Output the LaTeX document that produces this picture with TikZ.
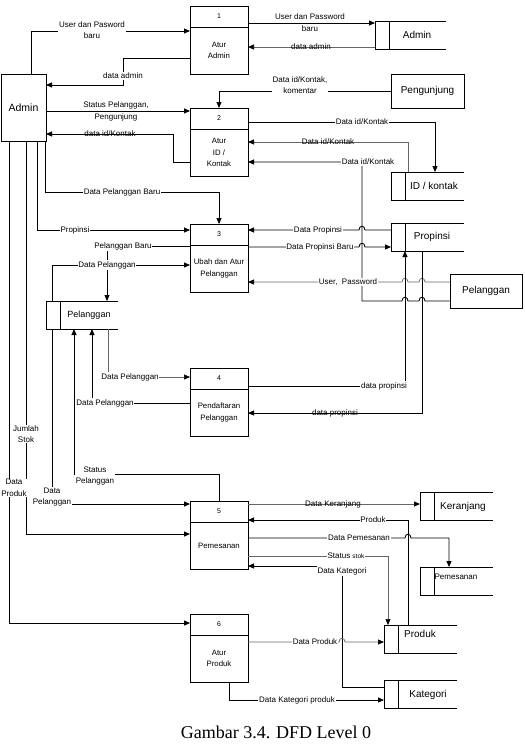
\documentclass[tikz,border=0pt]{standalone}
\usepackage{fontspec}
\setmainfont{Liberation Sans}
\newfontfamily\capfont{Liberation Serif}
\usetikzlibrary{arrows.meta}

\newcommand{\DFDproc}[4]{%
  \node[proc] (#1) at (219,#2+34) {};
  \draw[boxline] ([yshift=-21.5pt]#1.north west) -- ([yshift=-21.5pt]#1.north east);
  \node[pnum] (#1n) at ([yshift=-10.5pt]#1.north) {#3};
  \node[ptext] (#1t) at ([yshift=-44.5pt]#1.north) {#4};
}
\newcommand{\DFDstore}[8]{%
  \node[storebox, minimum width=#4pt] (#1) at (#2+#4/2,#3+14) {};
  \draw[boxline] (#1.north east) -- (#1.north west) -- (#1.south west) -- (#1.south east);
  \draw[boxline] ([xshift=14pt]#1.north west) -- ([xshift=14pt]#1.south west);
  \node[#8] (#1t) at (#6,#7) {#5};
}

\begin{document}
\begin{tikzpicture}[x=1pt,y=-1pt,
  boxline/.style={line width=0.9pt},
  proc/.style={draw, line width=0.9pt, minimum width=58pt, minimum height=68pt, inner sep=0pt, outer sep=0pt},
  storebox/.style={minimum height=28pt, inner sep=0pt, outer sep=0pt},
  ent/.style={draw, line width=0.9pt, inner sep=0pt, outer sep=0pt, font=\fontsize{10}{12}\selectfont},
  pnum/.style={font=\fontsize{7}{8}\selectfont},
  ptext/.style={font=\fontsize{7.8}{11.5}\selectfont, align=center},
  stxt/.style={font=\fontsize{10}{12}\selectfont},
  stxtnine/.style={font=\fontsize{9}{11}\selectfont},
  stxteight/.style={font=\fontsize{8}{10}\selectfont},
  lbl/.style={font=\fontsize{8}{11.5}\selectfont, inner sep=0.8pt, fill=white, align=center},
  lbls/.style={font=\fontsize{8}{11.5}\selectfont, inner sep=0.8pt, align=center},
  flow/.style={line width=0.9pt, -{Triangle[length=6pt,width=5pt]}},
  gflow/.style={line width=0.7pt, draw=black!60, -{Triangle[length=6pt,width=5pt,color=black]}},
]
\fill[white] (0,0) rectangle (525,753);
\useasboundingbox (0,0) rectangle (525,753);

% ---------- external entities ----------
\node[ent, minimum width=45pt, minimum height=67pt, font=\fontsize{10.5}{12}\selectfont] (admin) at (23.5,107.5) {Admin};
\node[ent, minimum width=73pt, minimum height=34pt] (ePeng) at (427.5,91) {Pengunjung};
\node[ent, minimum width=72pt, minimum height=34pt] (ePel) at (486,291) {Pelanggan};

% ---------- processes ----------
\DFDproc{p1}{6}{1}{Atur\\Admin}
\DFDproc{p2}{108}{2}{Atur\\ID /\\Kontak}
\DFDproc{p3}{224}{3}{Ubah dan Atur\\Pelanggan}
\DFDproc{p4}{368}{4}{Pendaftaran\\Pelanggan}
\DFDproc{p5}{501}{5}{Pemesanan}
\DFDproc{p6}{614}{6}{Atur\\Produk}

% ---------- data stores ----------
\DFDstore{sAdmin}{375}{21}{71}{Admin}{417}{35}{stxt}
\DFDstore{sID}{391}{172}{73}{ID / kontak}{434}{186}{stxt}
\DFDstore{sProp}{391}{223}{73}{Propinsi}{432}{237}{stxt}
\DFDstore{sPel}{46}{301}{72}{Pelanggan}{89}{315}{stxtnine}
\DFDstore{sKer}{420}{492}{73}{Keranjang}{463}{507}{stxt}
\DFDstore{sPem}{420}{567}{73}{Pemesanan}{456}{577}{stxteight}
\DFDstore{sProd}{384}{625}{73}{Produk}{420}{634}{stxt}
\DFDstore{sKat}{384}{680}{73}{Kategori}{428}{695}{stxt}

% ---------- flows ----------
\draw[flow] (admin.north -| 31,0) -- (31,31) -- (p1.west |- 0,31);
\draw[flow] (p1.west |- 0,58) -- (123,58) -- (123,85) -- (admin.east |- 0,85);
\draw[flow] (p1.east |- 0,23) -- (sAdmin.west |- 0,23);
\draw[gflow] (sAdmin.west |- 0,47) -- (p1.east |- 0,47);
\draw[flow] (admin.east |- 0,111) -- (p2.west |- 0,111);
\draw[flow] (ePeng.west |- 0,91) -- (219,91) -- (p2.north);
\draw[flow] (p2.west |- 0,162) -- (173,162) -- (173,134) -- (admin.east |- 0,134);
\draw[flow] (p2.east |- 0,122) -- (435,122) -- (sID.north -| 435,0);
\draw[gflow] (sID.north -| 408,0) -- (408,142) -- (p2.east |- 0,142);
\draw[flow] (ePel.west |- 0,301) -- (425,301) .. controls (425,296) and (419,296) .. (419,301)
  -- (408,301) .. controls (408,296) and (402,296) .. (402,301)
  -- (362,301) -- (362,162) -- (p2.east |- 0,162);
\draw[flow] (admin.south -| 45,0) -- (45,192) -- (219,192) -- (p3.north);
\draw[flow] (admin.south -| 37,0) -- (37,230) -- (p3.west |- 0,230);
\draw[flow] (p3.west |- 0,246) -- (107,246) -- (sPel.north -| 107,0);
\draw[flow] (sPel.north -| 52,0) -- (52,265) -- (p3.west |- 0,265);
\draw[flow] (sProp.west |- 0,230) -- (365,230) .. controls (365,225) and (359,225) .. (359,230) -- (p3.east |- 0,230);
\draw[flow] (p3.east |- 0,247) -- (359,247) .. controls (359,242) and (365,242) .. (365,247) -- (sProp.west |- 0,247);
\draw[gflow] (ePel.west |- 0,282) -- (425,282) .. controls (425,277) and (419,277) .. (419,282)
  -- (408,282) .. controls (408,277) and (402,277) .. (402,282) -- (p3.east |- 0,282);
\draw[flow] (p4.east |- 0,386) -- (405,386) -- (sProp.south -| 405,0);
\draw[flow] (sProp.south -| 422,0) -- (422,413) -- (p4.east |- 0,413);
\draw[gflow] (sPel.south -| 108,0) -- (108,377) -- (p4.west |- 0,377);
\draw[flow] (p4.west |- 0,403) -- (92,403) -- (sPel.south -| 92,0);
\draw[flow] (p5.north) -- (219,474) -- (74,474) -- (sPel.south -| 74,0);
\draw[flow] (sPel.south -| 52,0) -- (52,504) -- (p5.west |- 0,504);
\draw[flow] (admin.south -| 26,0) -- (26,534) -- (p5.west |- 0,534);
\draw[flow] (admin.south -| 9,0) -- (9,623) -- (p6.west |- 0,623);
\draw[gflow] (p5.east |- 0,504) -- (sKer.west |- 0,504);
\draw[flow] (sProd.north -| 408,0) -- (408,520) -- (p5.east |- 0,520);
\draw[flow] (p5.east |- 0,538) -- (405,538) .. controls (405,533) and (411,533) .. (411,538) -- (449,538) -- (sPem.north -| 449,0);
\draw[gflow] (p5.east |- 0,556) -- (388,556) -- (sProd.north -| 388,0);
\draw[flow] (sKat.west |- 0,687) -- (342,687) -- (342,566) -- (p5.east |- 0,566);
\draw[gflow] (p6.east |- 0,642) -- (339,642) .. controls (339,637) and (345,637) .. (345,642) -- (sProd.west |- 0,642);
\draw[flow] (p6.south -| 229,0) -- (229,700) -- (sKat.west |- 0,700);

% ---------- labels ----------
\node[lbl] (l1) at (92,30) {User dan Pasword\\baru};
\node[lbl] (l2) at (123,76) {data admin};
\node[lbls] (l3a) at (310,17) {User dan Password};
\node[lbls] (l3b) at (310,29) {baru};
\node[lbls] (l4) at (311,47) {data admin};
\node[lbls] (l5a) at (116,105) {Status Pelanggan,};
\node[lbls] (l5b) at (116,117) {Pengunjung};
\node[lbl] (l6) at (300,85) {Data id/Kontak,\\komentar};
\node[lbls] (l7) at (110,134) {data id/Kontak};
\node[lbl] (l8) at (362,122) {Data id/Kontak};
\node[lbls] (l9) at (328,142) {Data id/Kontak};
\node[lbl] (l10) at (368,162) {Data id/Kontak};
\node[lbl] (l11) at (122,192) {Data Pelanggan Baru};
\node[lbl] (l12) at (75,230) {Propinsi};
\node[lbl] (l13) at (123,246) {Pelanggan Baru};
\node[lbl] (l14) at (107,265) {Data Pelanggan};
\node[lbl] (l15) at (318,230) {Data Propinsi};
\node[lbl] (l16) at (320,247) {Data Propinsi Baru};
\node[lbl] (l17) at (348,282) {User,\ \ Password};
\node[lbl] (l18) at (384,386) {data propinsi};
\node[lbls] (l19) at (335,413) {data propinsi};
\node[lbl] (l20) at (130,377) {Data Pelanggan};
\node[lbl] (l21) at (105,403) {Data Pelanggan};
\node[lbl] (l22) at (95,476) {Status\\Pelanggan};
\node[lbl] (l23) at (52,497) {Data\\Pelanggan};
\node[lbl] (l24) at (26,434) {Jumlah\\Stok};
\node[lbl] (l25) at (14,488) {Data\\Produk};
\node[lbls] (l26) at (333,504) {Data Keranjang};
\node[lbl] (l27) at (373,520) {Produk};
\node[lbl] (l28) at (359,538) {Data Pemesanan};
\node[lbl] (l29) at (346,556) {Status {\fontsize{6.5}{8}\selectfont stok}};
\node[lbl] (l30) at (342,571) {Data Kategori};
\node[lbl] (l31) at (315,642) {Data Produk};
\node[lbl] (l32) at (297,700) {Data Kategori produk};

% ---------- caption ----------
\node[font=\capfont\fontsize{18}{20}\selectfont] (cap) at (276,732) {Gambar 3.4. DFD Level 0};
\end{tikzpicture}
\end{document}
